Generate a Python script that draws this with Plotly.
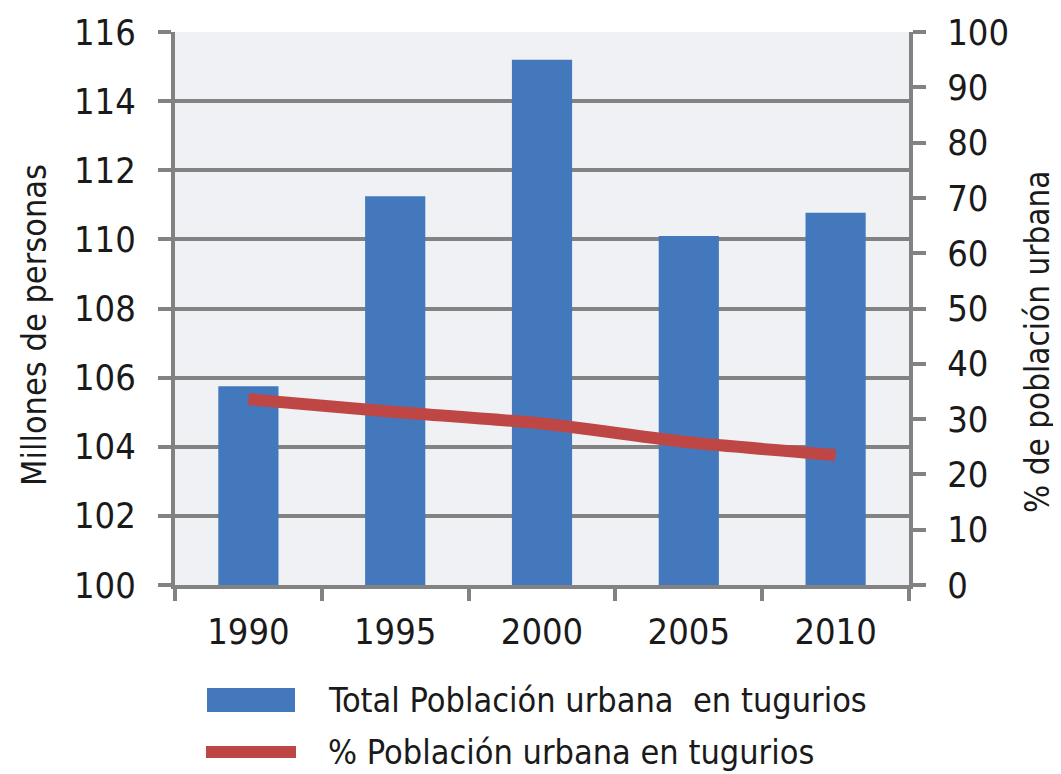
import plotly.graph_objects as go

# ---- data ----
years = ["1990", "1995", "2000", "2005", "2010"]
total_millions = [105.75, 111.25, 115.2, 110.1, 110.77]
pct_urban = [33.6, 31.3, 29.2, 25.8, 23.5]

bar_name = "Total Población urbana  en tugurios"
line_name = "% Población urbana en tugurios"
left_title = "Millones de personas"
right_title = "% de población urbana"

# ---- styles ----
FONT = "DejaVu Sans Condensed, Liberation Sans Narrow, sans-serif"
AX = "#828282"
BAR_C = "#4379BC"
LINE_C = "#BE4746"
TXT = "#1a1a1a"
FS = 36

OFF = 8  # page body margin
W, H = 1061 - OFF, 774 - OFF
# plot area in page pixels
PL, PR, PT, PB = 175, 909, 32, 585
L, R, T, B = PL - OFF, W - (PR - OFF), PT - OFF, H - (PB - OFF)
pw = PR - PL
ph = PB - PT

def px_x(px):
    return (px - PL) / pw

def px_y(py):
    return (PB - py) / ph

fig = go.Figure()
fig.add_trace(go.Bar(
    x=years, y=total_millions, name=bar_name, marker_color=BAR_C,
    marker_line_width=0, width=0.41, yaxis="y", showlegend=False,
))
fig.add_trace(go.Scatter(
    x=years, y=pct_urban, name=line_name, mode="lines", yaxis="y2",
    line=dict(color=LINE_C, width=12, shape="spline", smoothing=0.6),
    showlegend=False,
))

fig.update_layout(
    width=W, height=H,
    margin=dict(l=L, r=R, t=T, b=B, autoexpand=False),
    paper_bgcolor="white",
    plot_bgcolor="#EFF1F4",
    font=dict(family=FONT, size=FS, color=TXT),
    xaxis=dict(
        type="category", tickson="boundaries", ticks="outside",
        ticklen=12, tickwidth=4, tickcolor=AX,
        showline=True, linewidth=4, linecolor=AX, showgrid=False,
        tickfont=dict(family=FONT, size=FS, color=TXT),
        ticklabelstandoff=12,
    ),
    yaxis=dict(
        range=[100, 116], dtick=2, tick0=100,
        showgrid=True, gridcolor=AX, gridwidth=4,
        ticks="outside", ticklen=13, tickwidth=4, tickcolor=AX,
        showline=True, linewidth=4, linecolor=AX, zeroline=False,
        tickfont=dict(family=FONT, size=FS, color=TXT),
        ticklabelstandoff=15,
    ),
    yaxis2=dict(
        overlaying="y", side="right", range=[0, 100], dtick=10, tick0=0,
        showgrid=False, zeroline=False,
        ticks="outside", ticklen=13, tickwidth=4, tickcolor=AX,
        showline=True, linewidth=4, linecolor=AX,
        tickfont=dict(family=FONT, size=FS, color=TXT),
        ticklabelstandoff=14,
    ),
    bargap=0.59,
)

# axis titles
fig.add_annotation(text=left_title, xref="paper", yref="paper",
                   x=px_x(34), y=px_y(325), textangle=-90, showarrow=False,
                   font=dict(family=FONT, size=34, color=TXT),
                   xanchor="center", yanchor="middle")
fig.add_annotation(text=right_title, xref="paper", yref="paper",
                   x=px_x(1038), y=px_y(342), textangle=-90, showarrow=False,
                   font=dict(family=FONT, size=33, color=TXT),
                   xanchor="center", yanchor="middle")

# legend (manual)
fig.add_shape(type="rect", xref="paper", yref="paper",
              x0=px_x(207), x1=px_x(295), y0=px_y(712), y1=px_y(688),
              fillcolor=BAR_C, line_width=0)
fig.add_shape(type="line", xref="paper", yref="paper",
              x0=px_x(206), x1=px_x(296), y0=px_y(752), y1=px_y(752),
              line=dict(color=LINE_C, width=12))
fig.add_annotation(text=bar_name, xref="paper", yref="paper",
                   x=px_x(326), y=px_y(700), showarrow=False,
                   xanchor="left", yanchor="middle",
                   font=dict(family=FONT, size=34, color=TXT))
fig.add_annotation(text=line_name, xref="paper", yref="paper",
                   x=px_x(326), y=px_y(752), showarrow=False,
                   xanchor="left", yanchor="middle",
                   font=dict(family=FONT, size=34, color=TXT))

fig.write_html("out.html")
